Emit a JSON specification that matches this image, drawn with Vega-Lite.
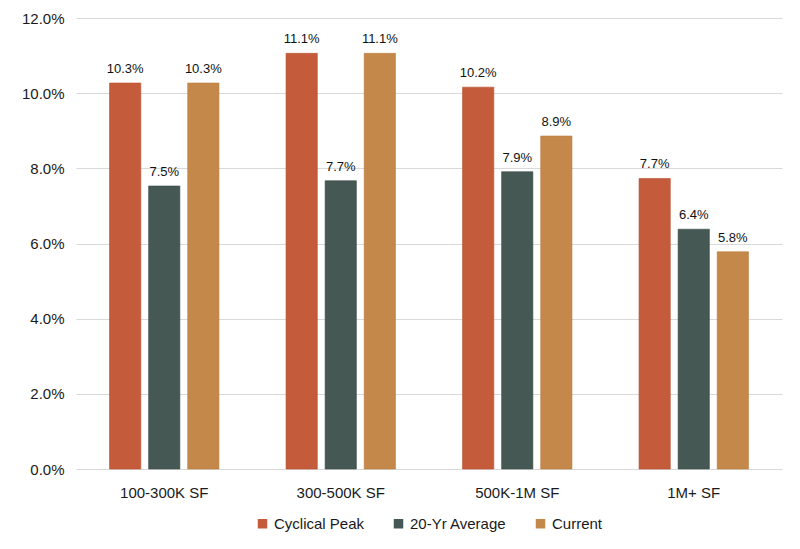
{
  "$schema": "https://vega.github.io/schema/vega-lite/v6.json",
  "width": 706,
  "height": 451,
  "autosize": {"type": "none"},
  "padding": {"left": 76, "top": 18, "right": 18, "bottom": 80},
  "background": "white",
  "config": {
    "font": "Liberation Sans",
    "view": {"stroke": null},
    "axis": {"labelFont": "Liberation Sans", "labelColor": "#1a1a1a", "labelFontSize": 15},
    "legend": {"layout": {"bottom": {"anchor": "middle"}}}
  },
  "data": {
    "values": [
      {"size": "100-300K SF", "series": "Cyclical Peak", "rate": 0.1027},
      {"size": "100-300K SF", "series": "20-Yr Average", "rate": 0.0753},
      {"size": "100-300K SF", "series": "Current", "rate": 0.1027},
      {"size": "300-500K SF", "series": "Cyclical Peak", "rate": 0.1106},
      {"size": "300-500K SF", "series": "20-Yr Average", "rate": 0.0767},
      {"size": "300-500K SF", "series": "Current", "rate": 0.1106},
      {"size": "500K-1M SF", "series": "Cyclical Peak", "rate": 0.1016},
      {"size": "500K-1M SF", "series": "20-Yr Average", "rate": 0.0791},
      {"size": "500K-1M SF", "series": "Current", "rate": 0.0886},
      {"size": "1M+ SF", "series": "Cyclical Peak", "rate": 0.0773},
      {"size": "1M+ SF", "series": "20-Yr Average", "rate": 0.0638},
      {"size": "1M+ SF", "series": "Current", "rate": 0.0578}
    ]
  },
  "encoding": {
    "x": {
      "field": "size",
      "type": "nominal",
      "sort": null,
      "title": null,
      "scale": {"paddingInner": 0.38, "paddingOuter": 0.19},
      "axis": {"labelAngle": 0, "domain": false, "ticks": false, "labelPadding": 16}
    },
    "xOffset": {
      "field": "series",
      "type": "nominal",
      "sort": ["Cyclical Peak", "20-Yr Average", "Current"],
      "scale": {"paddingInner": 0.2, "paddingOuter": 0}
    },
    "y": {
      "field": "rate",
      "type": "quantitative",
      "title": null,
      "scale": {"domain": [0, 0.12]},
      "axis": {
        "values": [0, 0.02, 0.04, 0.06, 0.08, 0.1, 0.12],
        "format": ".1%",
        "domain": false,
        "ticks": false,
        "labelPadding": 12,
        "gridColor": "#D9D9D9",
        "gridWidth": 1.2
      }
    }
  },
  "layer": [
    {
      "mark": {"type": "bar", "strokeWidth": 1, "strokeOpacity": 0.6},
      "encoding": {
        "color": {
          "field": "series",
          "type": "nominal",
          "sort": ["Cyclical Peak", "20-Yr Average", "Current"],
          "scale": {
            "domain": ["Cyclical Peak", "20-Yr Average", "Current"],
            "range": ["#C45C3C", "#465853", "#C4884A"]
          },
          "legend": {
            "orient": "bottom",
            "direction": "horizontal",
            "title": null,
            "symbolType": "square",
            "symbolSize": 90,
            "symbolStrokeWidth": 0,
            "labelFontSize": 15,
            "labelColor": "#1a1a1a",
            "columnPadding": 26,
            "offset": 16
          }
        },
        "stroke": {
          "field": "series",
          "type": "nominal",
          "scale": {
            "domain": ["Cyclical Peak", "20-Yr Average", "Current"],
            "range": ["#B8502F", "#3C4D49", "#BA7D3F"]
          },
          "legend": null
        }
      }
    },
    {
      "mark": {"type": "text", "baseline": "bottom", "dy": -7, "fontSize": 13, "color": "#111111"},
      "encoding": {
        "text": {"field": "rate", "type": "quantitative", "format": ".1%"}
      }
    }
  ]
}
